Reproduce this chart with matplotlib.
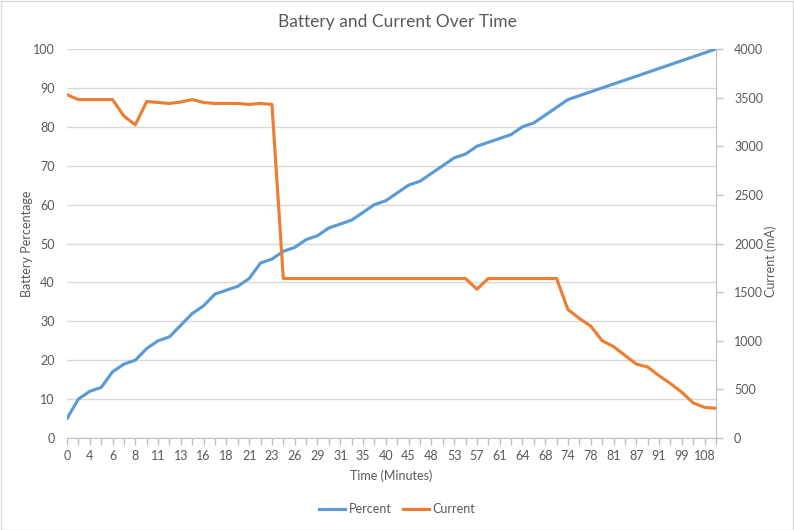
import matplotlib
matplotlib.use("Agg")
import matplotlib.pyplot as plt
from matplotlib.patches import Rectangle
import numpy as np

plt.rcParams['font.family'] = ['Lato', 'DejaVu Sans']

time_labels = [0, 2, 4, 5, 6, 7, 8, 10, 11, 12, 13, 15, 16, 17, 18, 20, 21, 22, 23, 25,
               26, 27, 29, 30, 31, 33, 35, 38, 40, 43, 45, 47, 48, 50, 53, 55, 57, 59, 61, 62,
               64, 66, 68, 71, 74, 76, 78, 80, 81, 83, 87, 89, 91, 96, 99, 104, 108, 110]

percent = [5, 10, 12, 13, 17, 19, 20, 23, 25, 26, 29, 32, 34, 37, 38, 39, 41, 45, 46, 48,
           49, 51, 52, 54, 55, 56, 58, 60, 61, 63, 65, 66, 68, 70, 72, 73, 75, 76, 77, 78,
           80, 81, 83, 85, 87, 88, 89, 90, 91, 92, 93, 94, 95, 96, 97, 98, 99, 100]

current = [3530, 3480, 3480, 3480, 3480, 3310, 3220, 3460, 3450, 3440, 3455, 3480, 3450, 3440, 3440, 3440, 3430, 3440, 3430,
           1640, 1640, 1640, 1640, 1640, 1640, 1640, 1640, 1640, 1640, 1640, 1640, 1640, 1640, 1640, 1640, 1640,
           1530, 1640, 1640, 1640, 1640, 1640, 1640, 1640,
           1320, 1230, 1150, 1000, 940, 850, 760, 730, 640, 560, 470, 360, 315, 305]

series_names = ["Percent", "Current"]
title = "Battery and Current Over Time"
x_title = "Time (Minutes)"
y_left_title = "Battery Percentage"
y_right_title = "Current (mA)"

BLUE = "#5B9BD5"
ORANGE = "#ED7D31"
TXT = "#595959"
GRID = "#D9D9D9"
AX = "#BFBFBF"

W, H = 794, 530
fig = plt.figure(figsize=(W / 100, H / 100), dpi=100)
ax = fig.add_axes([67 / W, 1 - 438 / H, (716 - 67) / W, (438 - 49) / H])
ax2 = ax.twinx()

x = np.arange(len(time_labels))
l1, = ax.plot(x, percent, color=BLUE, lw=2.25, solid_joinstyle='round', zorder=3)
l2, = ax2.plot(x, current, color=ORANGE, lw=2.25, solid_joinstyle='round', zorder=3)

ax.set_xlim(0, len(time_labels) - 1)
ax.set_ylim(0, 100)
ax2.set_ylim(0, 4000)
ax.set_yticks(np.arange(0, 101, 10))
ax2.set_yticks(np.arange(0, 4001, 500))
ax.set_xticks(x)
ax.set_xticklabels([str(t) if i % 2 == 0 else "" for i, t in enumerate(time_labels)])

ax.grid(axis='y', color=GRID, lw=1)
ax.set_axisbelow(True)
for a in (ax, ax2):
    for s in a.spines.values():
        s.set_visible(False)
ax.spines['bottom'].set_visible(True)
ax.spines['bottom'].set_color(AX)
ax2.spines['right'].set_visible(True)
ax2.spines['right'].set_color(AX)

ax.tick_params(axis='x', colors=AX, labelcolor=TXT, length=5, width=1, direction='out', labelsize=9, pad=4)
ax.tick_params(axis='y', length=0, labelcolor=TXT, labelsize=9, pad=9)
ax2.tick_params(axis='y', colors=AX, labelcolor=TXT, length=5, width=1, labelsize=9, pad=8)

ax.set_xlabel(x_title, color=TXT, fontsize=9, labelpad=5)
fig.text(27 / W, 1 - 244 / H, y_left_title, rotation=90, ha='center', va='center', color=TXT, fontsize=9)
fig.text(771 / W, 1 - 261 / H, y_right_title, rotation=90, ha='center', va='center', color=TXT, fontsize=9)

fig.text(0.5, 1 - 22 / H, title, ha='center', va='center', color=TXT, fontsize=12.5)

fig.legend([l1, l2], series_names, loc='center', bbox_to_anchor=(0.5, 1 - 509 / H),
           ncol=2, frameon=False, fontsize=9, labelcolor=TXT, handlelength=2.1,
           columnspacing=0.9, handletextpad=0.3)

fig.patches.append(Rectangle((0.5 / W, 0.5 / H), 1 - 1.5 / W, 1 - 1.5 / H, transform=fig.transFigure,
                             fill=False, edgecolor=GRID, lw=1))

fig.savefig("out.png", dpi=100)
